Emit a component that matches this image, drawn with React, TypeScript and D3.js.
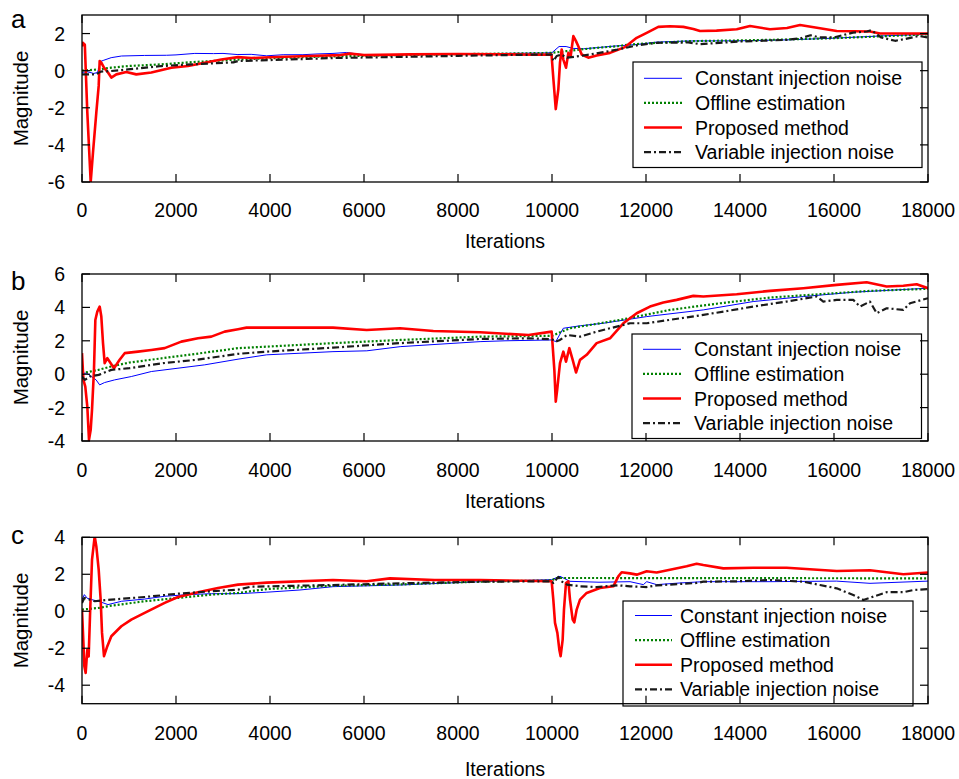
import React from "react";
import * as d3 from "d3";

type Pt = [number, number];

// ---------- data (iteration, magnitude) ----------
const seriesNames = ["Constant injection noise", "Offline estimation", "Proposed method", "Variable injection noise"];
const xTicks = [0, 2000, 4000, 6000, 8000, 10000, 12000, 14000, 16000, 18000];
const aTicks = [-6, -4, -2, 0, 2];
const bTicks = [-4, -2, 0, 2, 4, 6];
const cTicks = [-4, -2, 0, 2, 4];

const aConstant: Pt[] = [[0,-0.1],[100,-0.05],[250,-0.15],[330,-0.1],[400,0.5],[450,0.55],[620,0.7],[840,0.79],[1000,0.8],[1330,0.82],[1800,0.83],[2000,0.85],[2400,0.93],[2800,0.92],[3000,0.93],[3300,0.87],[3600,0.88],[3930,0.8],[4280,0.86],[4700,0.86],[5000,0.9],[5340,0.93],[5630,0.98],[5800,0.92],[6060,0.84],[7000,0.88],[8000,0.9],[9000,0.93],[9800,0.95],[10000,0.97],[10150,1.3],[10300,1.3],[10450,1.2],[10670,1.18],[11000,1.25],[11300,1.32],[11800,1.41],[12230,1.54],[12900,1.6],[14000,1.61],[15000,1.66],[16000,1.75],[17000,1.87],[18000,1.96]];
const aOffline: Pt[] = [[0,0],[400,0.08],[620,0.16],[980,0.25],[1690,0.34],[2340,0.46],[3320,0.6],[4000,0.67],[5000,0.75],[6000,0.8],[7000,0.85],[8000,0.89],[9000,0.92],[10000,0.96],[10300,1.05],[10600,1.14],[10950,1.23],[11400,1.32],[11660,1.41],[12230,1.5],[12900,1.59],[14000,1.63],[15000,1.68],[16000,1.75],[17000,1.85],[18000,1.96]];
const aProposed: Pt[] = [[0,1.3],[20,1.5],[60,1.4],[113,-2.25],[185,-6.0],[234,-4.4],[305,-2.25],[355,-0.82],[376,0.52],[411,0.43],[468,0.16],[553,-0.1],[624,-0.37],[730,-0.2],[943,-0.07],[1155,-0.2],[1475,-0.1],[1900,0.16],[2255,0.25],[2610,0.43],[2965,0.6],[3320,0.73],[3600,0.68],[4000,0.72],[4500,0.76],[5000,0.8],[5500,0.84],[5700,0.92],[6000,0.84],[7000,0.88],[8000,0.9],[9000,0.88],[9670,0.86],[9990,0.87],[10030,-0.47],[10080,-2.07],[10135,-1.0],[10170,0.43],[10206,1.14],[10241,0.6],[10298,0.16],[10348,0.96],[10398,0.79],[10454,1.86],[10511,1.59],[10560,1.32],[10632,0.87],[10773,0.7],[10950,0.82],[11234,0.96],[11553,1.27],[11802,1.77],[12015,2.04],[12262,2.36],[12510,2.39],[12794,2.36],[13007,2.25],[13150,2.14],[13500,2.16],[13930,2.23],[14213,2.41],[14638,2.23],[15000,2.3],[15277,2.46],[15702,2.29],[16057,2.14],[16766,2.11],[16979,2.0],[17500,2.0],[18000,2.0]];
const aVariable: Pt[] = [[0,-0.2],[150,-0.2],[300,-0.2],[400,-0.05],[620,-0.02],[980,0.07],[1690,0.25],[2340,0.34],[3220,0.45],[3320,0.52],[4000,0.57],[5340,0.68],[6000,0.71],[7000,0.75],[8000,0.8],[9000,0.84],[9990,0.87],[10028,0.52],[10100,0.79],[10200,0.87],[10320,0.7],[10600,0.79],[10950,0.93],[11400,1.14],[11800,1.36],[12230,1.5],[12900,1.52],[13150,1.43],[14000,1.57],[15000,1.66],[15300,1.75],[15500,1.91],[15700,1.79],[16000,1.79],[16400,2.05],[16700,2.11],[16800,2.18],[17000,1.79],[17300,1.61],[17500,1.7],[17800,1.87],[18000,1.79]];

const bConstant: Pt[] = [[0,0.06],[100,0.06],[200,-0.14],[300,-0.34],[376,-0.64],[480,-0.5],[695,-0.34],[1049,-0.14],[1475,0.16],[2042,0.36],[2610,0.56],[3320,0.9],[3930,1.16],[5340,1.35],[6060,1.4],[6770,1.65],[8470,1.95],[9000,2.0],[10000,2.05],[10080,1.95],[10240,2.75],[10600,2.9],[11090,3.05],[12015,3.45],[13220,3.85],[14280,4.35],[15350,4.65],[16410,4.91],[18000,5.15]];
const bOffline: Pt[] = [[0,0.06],[350,0.26],[620,0.46],[1010,0.7],[1720,0.96],[2430,1.22],[3320,1.56],[3930,1.65],[5340,1.86],[6770,2.05],[8470,2.25],[10000,2.3],[10380,2.75],[11450,3.25],[12510,3.85],[13580,4.25],[14640,4.59],[15700,4.79],[16770,4.99],[18000,5.11]];
const bProposed: Pt[] = [[0,1.26],[30,-0.34],[70,-0.74],[113,-1.94],[149,-3.93],[185,-3.33],[213,-2.14],[255,0.26],[284,3.25],[326,3.75],[376,4.05],[411,3.45],[447,1.86],[482,0.66],[539,0.96],[589,0.75],[681,0.36],[801,0.86],[908,1.26],[1191,1.35],[1475,1.45],[1759,1.56],[2113,1.95],[2468,2.15],[2752,2.25],[3035,2.55],[3320,2.69],[3500,2.79],[5340,2.79],[6057,2.65],[6766,2.75],[7475,2.59],[8468,2.51],[9500,2.35],[9993,2.55],[10050,0.26],[10080,-1.64],[10110,-0.94],[10170,0.66],[10241,1.35],[10298,0.75],[10369,1.56],[10440,0.86],[10511,0.1],[10596,0.86],[10738,1.16],[10950,1.86],[11234,2.15],[11517,3.05],[11802,3.65],[12085,4.05],[12369,4.29],[12652,4.45],[13007,4.69],[13220,4.65],[13930,4.79],[14638,4.99],[15348,5.15],[16057,5.35],[16695,5.51],[17120,5.25],[17475,5.3],[17758,5.39],[18000,5.15]];
const bVariable: Pt[] = [[0,-0.14],[60,-0.34],[170,-0.14],[355,-0.04],[624,0.26],[1010,0.36],[1723,0.66],[2433,0.86],[3320,1.22],[3930,1.35],[5340,1.59],[6766,1.86],[8468,2.11],[9500,2.15],[9990,2.1],[10028,2.05],[10080,1.95],[10170,2.05],[10320,2.35],[10600,2.25],[10950,2.55],[11660,3.05],[12015,3.05],[13220,3.55],[14283,4.05],[14993,4.35],[15631,4.65],[15773,4.35],[16057,4.45],[16410,4.45],[16553,4.05],[16766,4.35],[16908,3.65],[17120,3.95],[17475,3.85],[17617,4.25],[18000,4.55]];

const cConstant: Pt[] = [[0,0.63],[50,0.9],[113,0.7],[250,0.6],[355,0.54],[553,0.36],[840,0.54],[1333,0.66],[1759,0.81],[2255,0.9],[2752,0.95],[3320,0.95],[3930,1.03],[4638,1.15],[5340,1.33],[6766,1.42],[8468,1.6],[9993,1.71],[10170,1.89],[10380,1.62],[11000,1.57],[11660,1.6],[11944,1.44],[12015,1.6],[12227,1.44],[12723,1.53],[13220,1.6],[14638,1.6],[16057,1.63],[16766,1.51],[18000,1.63]];
const cOffline: Pt[] = [[0,0.09],[355,0.18],[620,0.3],[1333,0.54],[2042,0.72],[2752,0.9],[3320,0.99],[3930,1.2],[5340,1.38],[6766,1.45],[8468,1.6],[9990,1.67],[10100,1.8],[18000,1.78]];
const cProposed: Pt[] = [[0,0.09],[30,-1.71],[50,-2.97],[78,-3.34],[113,-2.08],[142,-2.44],[170,-0.27],[213,2.79],[270,4.05],[305,3.51],[355,2.25],[397,0.63],[426,-1.17],[468,-2.43],[539,-1.89],[624,-1.35],[730,-1.08],[837,-0.81],[1049,-0.45],[1333,-0.09],[1546,0.18],[1759,0.45],[2042,0.77],[2468,1.03],[2894,1.26],[3320,1.44],[3930,1.55],[5340,1.69],[6057,1.62],[6553,1.78],[7500,1.69],[8468,1.69],[9993,1.62],[10028,0.63],[10064,-0.63],[10114,-1.17],[10156,-2.08],[10184,-2.43],[10227,-1.53],[10255,0.09],[10298,1.53],[10348,1.62],[10383,0.63],[10440,-0.45],[10475,-0.6],[10525,0.09],[10596,0.63],[10738,0.99],[11021,1.26],[11305,1.35],[11411,1.89],[11482,2.11],[11660,2.05],[11802,1.98],[12015,2.16],[12227,2.1],[12510,2.25],[12865,2.43],[13078,2.57],[13220,2.5],[13645,2.32],[14283,2.35],[14993,2.35],[16057,2.18],[16766,2.22],[17475,2.0],[18000,2.1]];
const cVariable: Pt[] = [[0,0.45],[50,0.72],[170,0.63],[270,0.54],[624,0.63],[1333,0.77],[2042,0.95],[2752,1.08],[3320,1.17],[3600,1.33],[5340,1.42],[6766,1.51],[8468,1.6],[9993,1.62],[10028,1.53],[10135,1.86],[10200,1.62],[10320,1.44],[10600,1.35],[10950,1.31],[11400,1.4],[11660,1.35],[12015,1.31],[12227,1.4],[13078,1.53],[13220,1.6],[13930,1.62],[14638,1.69],[15348,1.6],[15702,1.42],[16057,1.24],[16410,0.88],[16624,0.61],[16837,0.79],[17120,1.03],[17475,1.03],[17688,1.15],[18000,1.2]];

// ---------- styling / layout ----------
const FONT = "'Liberation Sans', Arial, Helvetica, sans-serif";
const styles = [
  { color: "#0000ff", width: 1, dash: "" },
  { color: "#008000", width: 2.2, dash: "2,2" },
  { color: "#ff0000", width: 2.6, dash: "" },
  { color: "#1a1a1a", width: 2.2, dash: "7,3,2,3" },
];

const X0 = 82, X1 = 928;

const panels = [
  { letter: "a", top: 15, bottom: 182, domain: [-6, 3], yTicks: aTicks, data: [aConstant, aOffline, aProposed, aVariable],
    legend: { x: 633, y: 62, w: 289, h: 105.5, row0: 78.3, lx0: 644, lx1: 682, tx: 695 },
    tickBase: 216.5, xlabBase: 248, letterBase: 28 },
  { letter: "b", top: 274, bottom: 441, domain: [-4, 6], yTicks: bTicks, data: [bConstant, bOffline, bProposed, bVariable],
    legend: { x: 632, y: 334, w: 289.5, h: 104.5, row0: 349.3, lx0: 643, lx1: 681, tx: 694 },
    tickBase: 476.5, xlabBase: 508, letterBase: 290 },
  { letter: "c", top: 537.3, bottom: 703.7, domain: [-5, 4], yTicks: cTicks, data: [cConstant, cOffline, cProposed, cVariable],
    legend: { x: 623, y: 601, w: 290, h: 105, row0: 615.5, lx0: 635, lx1: 672, tx: 680 },
    tickBase: 740, xlabBase: 776, letterBase: 543.5 },
];

function Panel({ p, idx }: { p: (typeof panels)[number]; idx: number }) {
  const x = d3.scaleLinear().domain([0, 18000]).range([X0, X1]);
  const y = d3.scaleLinear().domain(p.domain).range([p.bottom, p.top]);
  const line = d3.line<Pt>().x((d) => x(d[0])).y((d) => y(d[1]));
  const clipId = `clip-${idx}`;
  const tl = 8;
  const lg = p.legend;
  const rowH = 24.6;
  return (
    <g>
      <defs>
        <clipPath id={clipId}>
          <rect x={X0} y={p.top} width={X1 - X0} height={p.bottom - p.top} />
        </clipPath>
      </defs>
      <g clipPath={`url(#${clipId})`}>
        {p.data.map((d, i) => (
          <path key={i} d={line(d) || ""} fill="none" stroke={styles[i].color} strokeWidth={styles[i].width}
            strokeDasharray={styles[i].dash || undefined} strokeLinejoin="round" />
        ))}
      </g>
      {/* legend */}
      <rect x={lg.x} y={lg.y} width={lg.w} height={lg.h} fill="#fff" stroke="#000" strokeWidth={1.2} />
      {seriesNames.map((n, i) => {
        const ry = lg.row0 + i * rowH;
        return (
          <g key={n}>
            <line x1={lg.lx0} x2={lg.lx1} y1={ry} y2={ry} stroke={styles[i].color} strokeWidth={styles[i].width}
              strokeDasharray={styles[i].dash || undefined} />
            <text x={lg.tx} y={ry} dy="0.36em" fontSize={19.5} fontFamily={FONT} fill="#000">{n}</text>
          </g>
        );
      })}
      {/* frame and ticks */}
      <rect x={X0} y={p.top} width={X1 - X0} height={p.bottom - p.top} fill="none" stroke="#000" strokeWidth={1.3} />
      {xTicks.map((t) => (
        <g key={`x${t}`}>
          <line x1={x(t)} x2={x(t)} y1={p.bottom} y2={p.bottom - tl} stroke="#000" strokeWidth={1.2} />
          <line x1={x(t)} x2={x(t)} y1={p.top} y2={p.top + tl} stroke="#000" strokeWidth={1.2} />
          <text x={x(t)} y={p.tickBase} textAnchor="middle" fontSize={19.5} fontFamily={FONT} fill="#000">{t}</text>
        </g>
      ))}
      {p.yTicks.map((t) => (
        <g key={`y${t}`}>
          <line x1={X0} x2={X0 + tl} y1={y(t)} y2={y(t)} stroke="#000" strokeWidth={1.2} />
          <line x1={X1} x2={X1 - tl} y1={y(t)} y2={y(t)} stroke="#000" strokeWidth={1.2} />
          <text x={65} y={y(t)} dy="0.36em" textAnchor="end" fontSize={19.5} fontFamily={FONT} fill="#000">{t}</text>
        </g>
      ))}
      <text x={(X0 + X1) / 2} y={p.xlabBase} textAnchor="middle" fontSize={19.5} fontFamily={FONT} fill="#000">Iterations</text>
      <text transform={`translate(27.5,${(p.top + p.bottom) / 2}) rotate(-90)`} textAnchor="middle" fontSize={20.5}
        fontFamily={FONT} fill="#000">Magnitude</text>
      <text x={11} y={p.letterBase} fontSize={26} fontFamily={FONT} fill="#000">{p.letter}</text>
    </g>
  );
}

export default function App() {
  return (
    <svg width={959} height={779} style={{ position: "absolute", left: 0, top: 0, background: "#fff" }}>
      <rect width={959} height={779} fill="#fff" />
      {panels.map((p, i) => (
        <Panel key={p.letter} p={p} idx={i} />
      ))}
    </svg>
  );
}
